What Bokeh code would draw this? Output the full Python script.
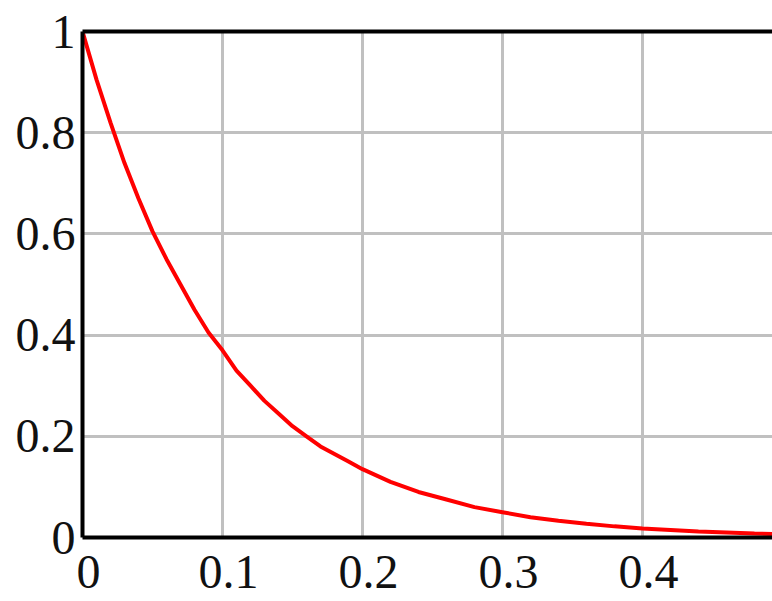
from bokeh.plotting import figure
from bokeh.models import Range1d, LinearAxis, FixedTicker
from bokeh.embed import file_html
from bokeh.resources import INLINE

x_vals = [0, 0.01, 0.02, 0.03, 0.04, 0.05, 0.06, 0.07, 0.08, 0.09, 0.10, 0.11, 0.12,
          0.13, 0.14, 0.15, 0.16, 0.17, 0.18, 0.19, 0.20, 0.22, 0.24, 0.26, 0.28, 0.30,
          0.32, 0.34, 0.36, 0.38, 0.40, 0.42, 0.44, 0.46, 0.48, 0.493]
y_vals = [1.0, 0.905, 0.82, 0.74, 0.67, 0.605, 0.55, 0.50, 0.45, 0.405, 0.37, 0.33, 0.30,
          0.27, 0.245, 0.22, 0.20, 0.18, 0.165, 0.15, 0.135, 0.11, 0.09, 0.075, 0.06, 0.05,
          0.04, 0.033, 0.027, 0.022, 0.018, 0.015, 0.012, 0.01, 0.008, 0.007]
x_ticks = [0, 0.1, 0.2, 0.3, 0.4]
x_tick_labels = ["0", "0.1", "0.2", "0.3", "0.4"]
y_ticks = [0, 0.2, 0.4, 0.6, 0.8, 1]
y_tick_labels = ["0", "0.2", "0.4", "0.6", "0.8", "1"]

p = figure(width=772, height=601, output_backend="svg", toolbar_location=None,
           x_range=Range1d(0, 0.4929), y_range=Range1d(0, 1),
           min_border_left=82, min_border_right=0, min_border_top=31, min_border_bottom=64)
p.outline_line_color = None
p.background_fill_color = "white"
p.border_fill_color = "white"

p.xaxis.ticker = FixedTicker(ticks=x_ticks)
p.yaxis.ticker = FixedTicker(ticks=y_ticks)
p.xaxis.major_label_overrides = {t: "\u00a0" + l for t, l in zip(x_ticks, x_tick_labels)}
p.yaxis.major_label_overrides = {t: l for t, l in zip(y_ticks, y_tick_labels)}

for ax in (p.xaxis, p.yaxis):
    ax.axis_line_color = "black"
    ax.axis_line_width = 4
    ax.major_tick_line_color = None
    ax.minor_tick_line_color = None
    ax.major_label_text_font = "Liberation Serif"
    ax.major_label_text_font_size = "48px"
    ax.major_label_text_color = "#111111"
p.yaxis.major_label_standoff = 1
p.xaxis.major_label_standoff = 1

top = LinearAxis(ticker=FixedTicker(ticks=[]), axis_line_color="black", axis_line_width=4,
                 major_tick_line_color=None, minor_tick_line_color=None,
                 major_label_text_font_size="0px")
p.add_layout(top, "above")

p.xgrid.grid_line_color = "#c0c0c0"
p.ygrid.grid_line_color = "#c0c0c0"
p.xgrid.grid_line_width = 3
p.ygrid.grid_line_width = 3

p.line(x_vals, y_vals, line_color="red", line_width=4)

open("out.html", "w").write(file_html(p, INLINE))
